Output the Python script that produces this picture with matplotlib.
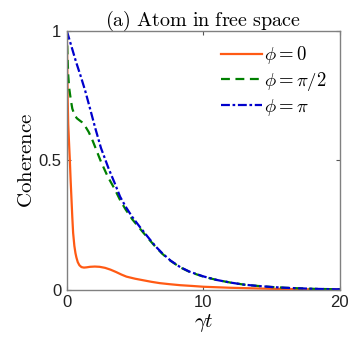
import numpy as np
import matplotlib
matplotlib.use("Agg")
import matplotlib.pyplot as plt

plt.rcParams['mathtext.fontset'] = 'cm'
plt.rcParams['font.family'] = ['Liberation Sans', 'DejaVu Sans']

# phi = 0
t0 = [0, 0.03, 0.06, 0.1, 0.15, 0.22, 0.28, 0.34, 0.4, 0.46, 0.55, 0.63, 0.7, 0.8, 0.92, 1.07, 1.25,
      1.45, 1.7, 2.05, 2.4, 2.8, 3.2, 3.6, 4.0, 4.37, 5.0, 5.6, 6.2, 6.8, 7.5, 8.3, 9.2, 10, 11,
      12, 13.5, 15, 16.5, 18, 20]
c0 = [1.0, 0.86, 0.74, 0.64, 0.58, 0.5, 0.42, 0.35, 0.28, 0.22, 0.17, 0.142, 0.125, 0.107, 0.095,
      0.088, 0.086, 0.087, 0.089, 0.09, 0.089, 0.085, 0.078, 0.069, 0.059, 0.051, 0.043, 0.037, 0.031,
      0.026, 0.022, 0.018, 0.015, 0.012, 0.01, 0.008, 0.006, 0.004, 0.003, 0.002, 0.001]

# phi = pi/2
t1 = [0, 0.03, 0.05, 0.1, 0.17, 0.24, 0.32, 0.4, 0.55, 0.73, 0.9, 1.1, 1.3, 1.6, 1.9, 2.2, 2.5,
      3.0, 3.5, 3.9, 4.3, 4.8, 5.35, 6.0, 6.5, 7.0, 7.6, 8.3, 9.0, 10, 11, 12, 13, 14, 15, 16,
      17, 18, 19, 20]
c1 = [1.0, 0.94, 0.9, 0.83, 0.78, 0.753, 0.725, 0.70, 0.678, 0.663, 0.656, 0.648, 0.636, 0.61,
      0.575, 0.535, 0.495, 0.437, 0.39, 0.347, 0.311, 0.272, 0.237, 0.196, 0.166, 0.139, 0.112,
      0.087, 0.069, 0.051, 0.038, 0.028, 0.02, 0.015, 0.011, 0.008, 0.006, 0.004, 0.003, 0.002]

# phi = pi
t2 = [0, 0.33, 0.66, 1.0, 1.34, 1.7, 2.07, 2.5, 3.05, 3.5, 3.9, 4.3, 4.8, 5.35, 6.0, 6.5, 7.0,
      7.6, 8.3, 9.0, 10, 11, 12, 13, 14, 15, 16, 17, 18, 19, 20]
c2 = [1.0, 0.942, 0.883, 0.828, 0.77, 0.70, 0.627, 0.548, 0.47, 0.413, 0.36, 0.322, 0.281, 0.243,
      0.2, 0.168, 0.141, 0.113, 0.088, 0.07, 0.052, 0.038, 0.028, 0.02, 0.015, 0.011, 0.008, 0.006,
      0.004, 0.003, 0.002]

fig = plt.figure(figsize=(3.5, 3.41), dpi=100)
ax = fig.add_axes([0.191, 0.15, 0.78, 0.759])

ax.plot(t0, c0, color='#ff5a14', lw=1.6, label=r'$\phi=0$')
ax.plot(t1, c1, color='#008000', lw=1.6, ls=(0, (4, 2.5)), label=r'$\phi=\pi/2$')
ax.plot(t2, c2, color='#0000cc', lw=1.6, ls=(0, (4, 1.2, 1.2, 1.2)), label=r'$\phi=\pi$')

ax.set_xlim(0, 20)
ax.set_ylim(0, 1)
ax.set_xticks([0, 10, 20])
ax.set_yticks([0, 0.5, 1])
ax.set_xticklabels(['0', '10', '20'])
ax.set_yticklabels(['0', '0.5', '1'])
ax.tick_params(direction='in', top=True, right=True, length=3, color='#555555',
               labelsize=12, labelcolor='#222222', pad=4)
for s in ax.spines.values():
    s.set_color('#808080')
    s.set_linewidth(1.0)

ax.set_xlabel(r'$\gamma t$', fontsize=15, labelpad=1)
ax.set_ylabel(r'$\mathrm{Coherence}$', fontsize=15, labelpad=2)
ax.set_title(r'$\mathrm{(a)\ Atom\ in\ free\ space}$', fontsize=14.5, pad=4)

ax.legend(loc='upper right', frameon=False, fontsize=13.5, handlelength=2.2,
          handletextpad=0.1, labelspacing=0.2, borderaxespad=0.3)

fig.savefig('out.png', dpi=100)
